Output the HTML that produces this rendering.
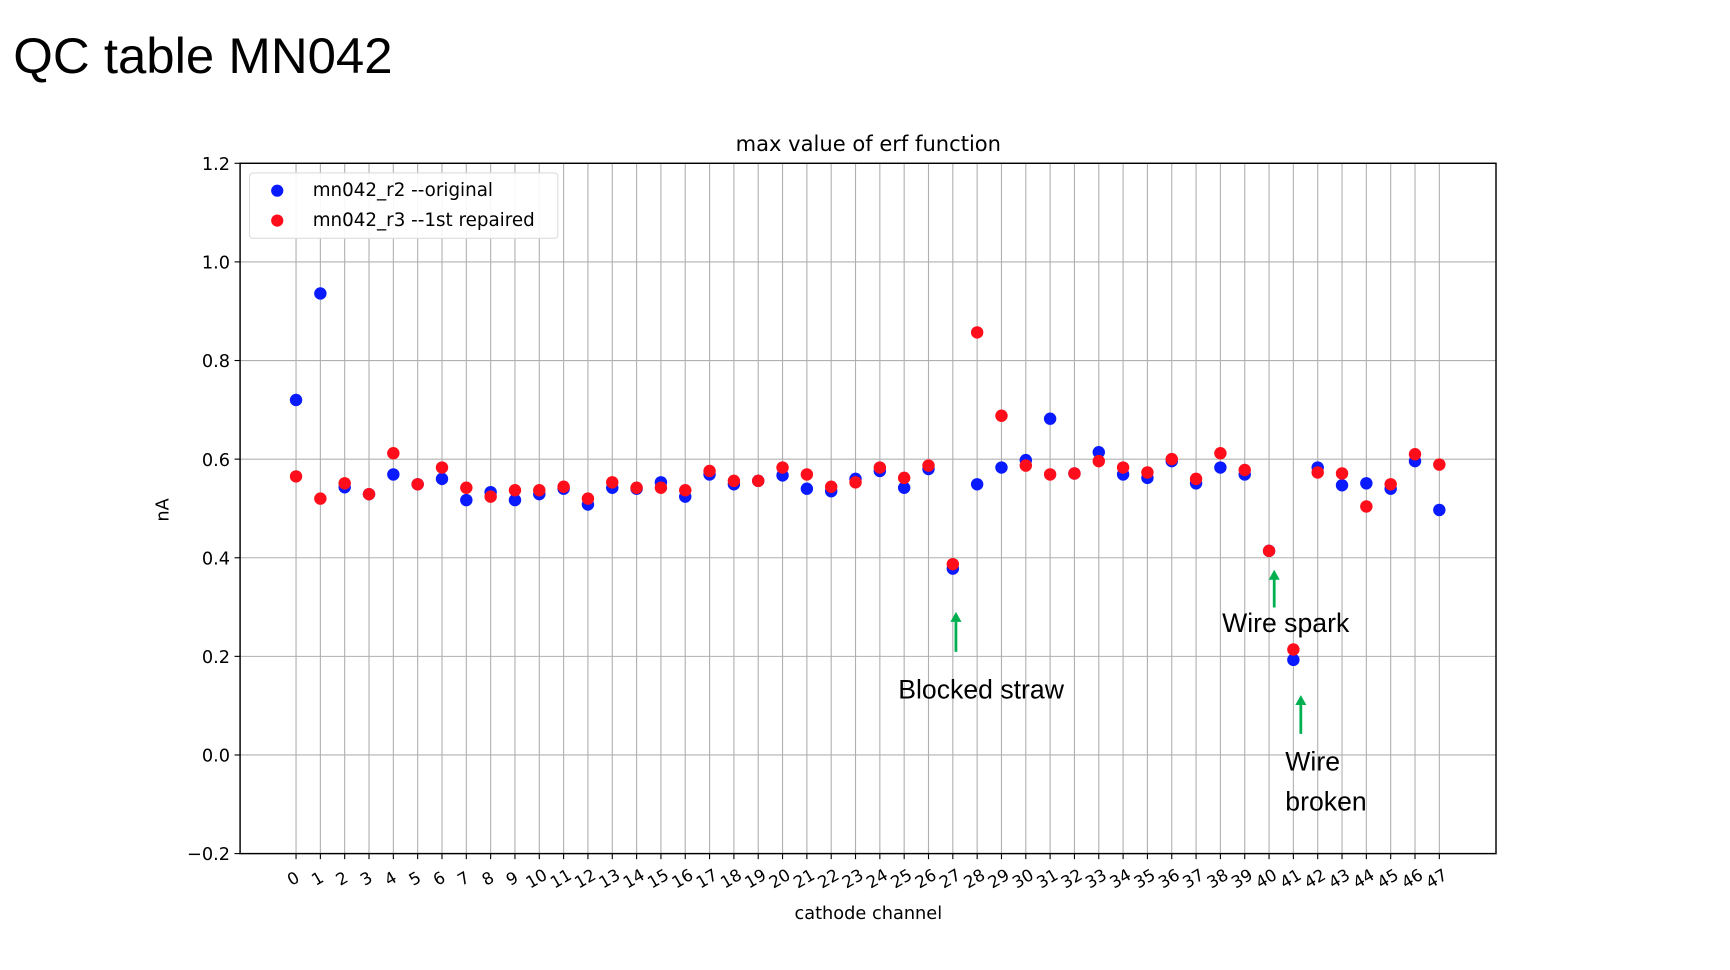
<!DOCTYPE html>
<html><head><meta charset="utf-8"><style>
html,body{margin:0;padding:0;background:#fff;}
svg{display:block;font-family:"DejaVu Sans","Liberation Sans",sans-serif;}
</style></head><body>
<svg id="chart" width="1730" height="970" viewBox="0 0 1560 875" preserveAspectRatio="none" xmlns="http://www.w3.org/2000/svg">
<text x="12" y="66" font-family="Liberation Sans, sans-serif" font-size="45" textLength="342" lengthAdjust="spacingAndGlyphs" fill="#000">QC table MN042</text>
<text x="783" y="136" font-size="19" text-anchor="middle" fill="#000">max value of erf function</text>
<g id="grid"></g>
<g id="marks"></g>
<rect x="216.5" y="147.3" width="1132.5" height="622.7" fill="none" stroke="#000" stroke-width="1.3"/>
<g id="axes"></g>
<text transform="translate(152,460) rotate(-90)" font-size="16" text-anchor="middle">nA</text>
<text x="783" y="829" font-size="16" text-anchor="middle">cathode channel</text>
<g>
<rect x="225" y="156" width="278" height="59" rx="3" fill="#fff" fill-opacity="0.9" stroke="#ddd"/>
<circle cx="250" cy="172" r="5.5" fill="#0a1aff"/>
<text x="282" y="177" font-size="16.5">mn042_r2 --original</text>
<circle cx="250" cy="199" r="5.5" fill="#ff0d1a"/>
<text x="282" y="204" font-size="16.5">mn042_r3 --1st repaired</text>
</g>
<g font-family="Liberation Sans, sans-serif" font-size="24" fill="#000">
<line x1="862" y1="588" x2="862" y2="558" stroke="#00b050" stroke-width="2.5"/>
<polygon points="857,561 867,561 862,552" fill="#00b050"/>
<text x="810" y="630">Blocked straw</text>
<line x1="1149" y1="548" x2="1149" y2="520" stroke="#00b050" stroke-width="2.5"/>
<polygon points="1144,523 1154,523 1149,514" fill="#00b050"/>
<text x="1102" y="570">Wire spark</text>
<line x1="1173" y1="662" x2="1173" y2="633" stroke="#00b050" stroke-width="2.5"/>
<polygon points="1168,636 1178,636 1173,627" fill="#00b050"/>
<text x="1159" y="695">Wire</text>
<text x="1159" y="731">broken</text>
</g>
</svg>
<script>
const channels = Array.from({length:48},(_,i)=>i);
const r2Values = [0.72,0.936,0.543,0.529,0.569,0.549,0.56,0.517,0.533,0.517,0.529,0.54,0.508,0.542,0.54,0.553,0.524,0.569,0.549,0.556,0.567,0.54,0.535,0.56,0.576,0.542,0.58,0.378,0.549,0.583,0.598,0.682,0.571,0.614,0.569,0.562,0.596,0.551,0.583,0.569,0.414,0.193,0.583,0.547,0.551,0.54,0.596,0.497];
const r3Values = [0.565,0.52,0.551,0.529,0.612,0.549,0.583,0.542,0.524,0.537,0.537,0.544,0.52,0.553,0.542,0.542,0.537,0.576,0.556,0.556,0.583,0.569,0.544,0.553,0.583,0.562,0.587,0.387,0.857,0.688,0.587,0.569,0.571,0.596,0.583,0.573,0.6,0.56,0.612,0.578,0.414,0.214,0.573,0.571,0.504,0.549,0.61,0.589];
const yTicks = [-0.2,0.0,0.2,0.4,0.6,0.8,1.0,1.2];
const yTickLabels = ["\u22120.2","0.0","0.2","0.4","0.6","0.8","1.0","1.2"];

const NS="http://www.w3.org/2000/svg";
const L=216.5,R=1349,T=147.3,B=770;
const xMin=-2.3,xMax=49.33,yMin=-0.2,yMax=1.2;
const xs=v=>L+(v-xMin)/(xMax-xMin)*(R-L);
const ys=v=>B-(v-yMin)/(yMax-yMin)*(B-T);
function mk(tag,attrs,parent){const e=document.createElementNS(NS,tag);for(const k in attrs)e.setAttribute(k,attrs[k]);parent.appendChild(e);return e;}
const grid=document.getElementById('grid'),axes=document.getElementById('axes'),marks=document.getElementById('marks');
yTicks.forEach((t,i)=>{
  const y=ys(t);
  const g=mk('line',{x1:L,x2:R,y1:y,y2:y,stroke:'#b0b0b0','stroke-width':1},grid);
  
  
  const tk=mk('line',{x1:L-5,x2:L,y1:y,y2:y,stroke:'#000'},axes);
  
  
  const tx=mk('text',{x:L-9,y:y+6,'font-size':16,'text-anchor':'end'},axes);
  tx.textContent=yTickLabels[i];
  
  
});
channels.forEach(c=>{
  const x=xs(c);
  const g=mk('line',{x1:x,x2:x,y1:T,y2:B,stroke:'#b0b0b0','stroke-width':1},grid);
  
  
  const tk=mk('line',{x1:x,x2:x,y1:B,y2:B+5,stroke:'#000'},axes);
  
  
  const tx=mk('text',{transform:`translate(${x},${B+27}) rotate(-30)`,'font-size':15,'text-anchor':'middle'},axes);
  tx.textContent=String(c);
  
  
});
channels.forEach((c,i)=>{
  const p=mk('circle',{cx:xs(c),cy:ys(r2Values[i]),r:5.6,fill:'#0a1aff'},marks);
  
  
});
channels.forEach((c,i)=>{
  const p=mk('circle',{cx:xs(c),cy:ys(r3Values[i]),r:5.6,fill:'#ff0d1a'},marks);
  
  
});
</script>
</body></html>
